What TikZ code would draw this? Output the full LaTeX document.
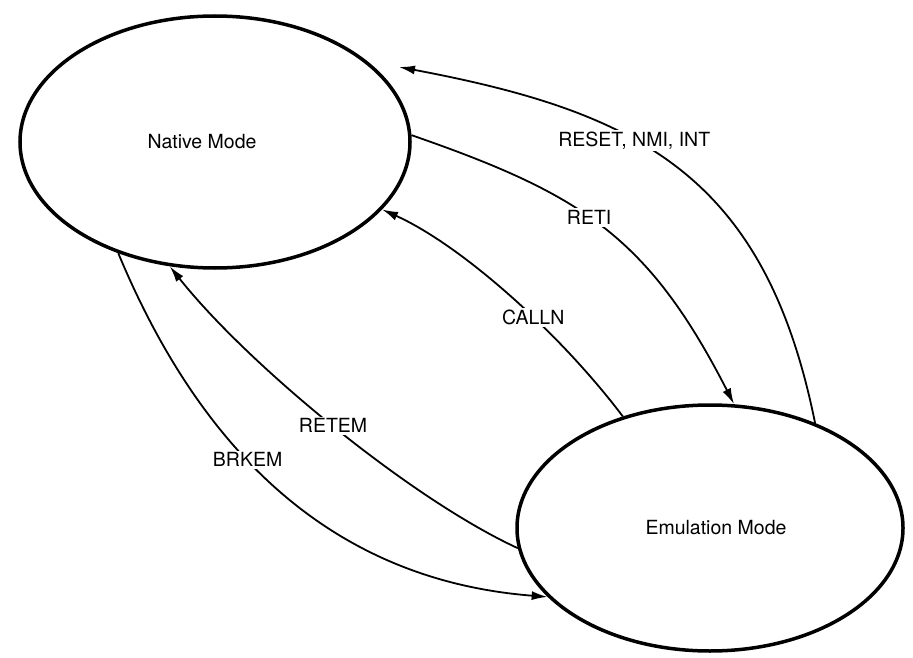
\documentclass[tikz,border=0pt]{standalone}
\usepackage{fontspec}
\setmainfont{TeX Gyre Heros}
\usetikzlibrary{arrows.meta, shapes.geometric}

\begin{document}
\begin{tikzpicture}[x=1pt,y=-1pt,>={Latex[length=16pt,width=9pt]},
  font=\fontsize{19.5}{23}\selectfont,
  mode/.style={ellipse,draw,line width=3.5pt,inner sep=0pt},
  trans/.style={->,line width=1.8pt},
  lbl/.style={fill=white,inner sep=2pt}]
\useasboundingbox (0,0) rectangle (913,658);
\node[mode,minimum width=390pt,minimum height=252pt] (native) at (215,142) {Native Mode\kern26pt};
\node[mode,minimum width=386pt,minimum height=246pt] (emul) at (710,528) {\kern12pt Emulation Mode};
\coordinate (resettip) at (399,67);
 \draw[trans] (emul.45) .. controls (765,175) and (638,112) .. (resettip)
   node[lbl,pos=0.6] {RESET, NMI, INT};
 \draw[trans] (native.2) .. controls (581,194) and (648,236) .. (emul.79)
   node[lbl,pos=0.45] {RETI};
 \draw[trans] (emul.128) .. controls (559,332) and (461,245) .. (native.-22)
   node[lbl,pos=0.4] {CALLN};
 \draw[trans] (emul.-174) .. controls (411,499) and (248,365) .. (native.-110)
   node[lbl,pos=0.5] {RETEM};
 \draw[trans] (native.-131) .. controls (194,435) and (319,579) .. (emul.-157)
   node[lbl,pos=0.43] {BRKEM};
\end{tikzpicture}
\end{document}
